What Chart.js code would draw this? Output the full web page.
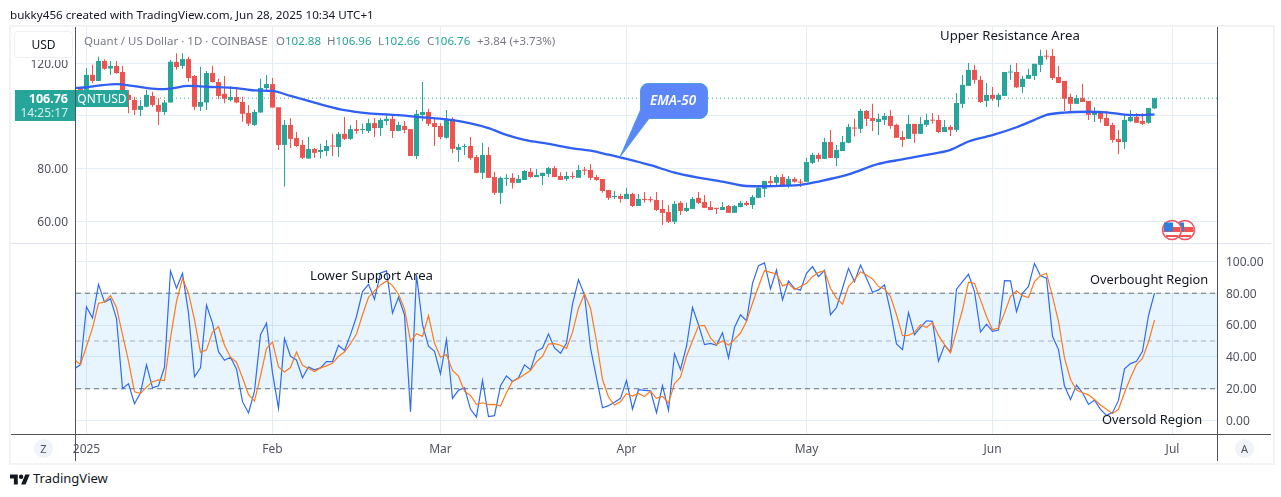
<!DOCTYPE html>
<html lang="en">
<head>
<meta charset="UTF-8">
<title>Quant / US Dollar</title>
<script src="https://cdn.jsdelivr.net/npm/chart.js"></script>
<style>
  html, body { margin:0; padding:0; background:#fff; }
  body { width:1281px; height:497px; position:relative; overflow:hidden; font-family:'Noto Sans',sans-serif; color:#131722; }
  canvas { position:absolute; left:0; }
  .t { position:absolute; white-space:nowrap; line-height:1; }
  .box { position:absolute; }
  .note { font-size:13.2px; color:#131722; }
  .g { color:#26a69a; }
  .round { position:absolute; width:19px; height:19px; border-radius:50%; background:#f0f3fa; font-size:11px; color:#50535e; text-align:center; line-height:19px; }
  .leg { position:absolute; top:35px; white-space:nowrap; line-height:1; font-size:11.5px; color:#787b86; }
</style>
</head>
<body>
<canvas id="priceChart" width="1281" height="243" style="top:0"></canvas>
<canvas id="rsiChart" width="1281" height="218" style="top:243px"></canvas>

<!-- frame and pane lines -->
<div class="box" style="left:9px;top:25px;width:1262px;height:436px;border:2px solid #f2f3f5"></div>
<div class="box" style="left:11px;top:243px;width:1260px;height:1px;background:#e0e3eb"></div>
<div class="box" style="left:11px;top:434px;width:1260px;height:1px;background:#50535e"></div>
<div class="box" style="left:75px;top:27px;width:1px;height:434px;background:#50535e"></div>
<div class="box" style="left:1217px;top:27px;width:1px;height:434px;background:#50535e"></div>

<div class="t" style="left:10px;top:9px;font-size:11.65px">bukky456 created with TradingView.com, Jun 28, 2025 10:34 UTC+1</div>

<!-- legend -->
<div class="leg" style="left:84px">Quant / US Dollar · 1D · COINBASE</div>
<div class="leg" style="left:276px">O<span class="g">102.88</span></div>
<div class="leg" style="left:327px">H<span class="g">106.96</span></div>
<div class="leg" style="left:378px">L<span class="g">102.66</span></div>
<div class="leg" style="left:427px">C<span class="g">106.76</span></div>
<div class="leg g" style="left:477px">+3.84 (+3.73%)</div>

<!-- USD button, covers the top of the 120 label -->
<div class="box" style="left:12px;top:29px;width:62px;height:31px;background:#fff"></div>
<div class="box" style="left:14px;top:31px;width:57px;height:25px;border:1px solid #eef0f3;border-radius:4px;font-size:12px;line-height:25px;text-align:center;color:#131722;background:#fff">USD</div>

<!-- last price tags -->
<div class="box" style="left:15px;top:90px;width:60px;height:31px;background:#26a69a;color:#fff;text-align:right">
  <div class="t" style="right:7px;top:3px;font-size:12.5px;font-weight:700">106.76</div>
  <div class="t" style="right:7px;top:17px;font-size:12px;color:#d4eeeb">14:25:17</div>
</div>
<div class="box" style="left:76px;top:90px;width:52px;height:17px;background:#26a69a;color:#fff;font-size:12px;line-height:17px;text-align:center">QNTUSD</div>

<!-- annotations -->
<div class="t note" style="left:940px;top:29px">Upper Resistance Area</div>
<div class="t note" style="left:310px;top:269px">Lower Support Area</div>
<div class="t note" style="left:1090px;top:273px;font-size:12.8px">Overbought Region</div>
<div class="t note" style="left:1102px;top:413px;font-size:12.9px">Oversold Region</div>

<!-- EMA-50 callout -->
<svg class="box" style="left:0;top:0" width="1281" height="243">
  <path d="M648 83.5H700a7.5 7.5 0 0 1 7.5 7.5V111a7.5 7.5 0 0 1 -7.5 7.5H649L620 157L640.5 110V91a7.5 7.5 0 0 1 7.5 -7.5z" fill="#5b85f8" stroke="#4d9fe0" stroke-width="1"/>
</svg>
<div class="t" style="left:650px;top:94px;font-size:13.5px;font-style:italic;font-weight:600;color:#fff">EMA-50</div>

<!-- flag icons -->
<svg class="box" style="left:1160px;top:219px" width="38" height="22">
  <g id="flagB"><circle cx="25" cy="11" r="9.5" fill="#fff" stroke="#ef5360" stroke-width="1.5"/><rect x="16.5" y="8" width="17" height="5" fill="#ef5350"/><rect x="19" y="16" width="12" height="2" fill="#ef5350"/><rect x="20" y="3.5" width="4" height="9" fill="#2f7fe0"/></g>
  <g id="flagA"><circle cx="12" cy="11" r="9.5" fill="#fff" stroke="#ef5360" stroke-width="1.5"/><rect x="3.5" y="8" width="17" height="5" fill="#ef5350"/><rect x="6" y="16" width="12" height="2" fill="#ef5350"/><rect x="4" y="3.5" width="9" height="9" fill="#2f7fe0"/></g>
</svg>

<div class="round" style="left:34px;top:439px">Z</div>
<div class="round" style="left:1235px;top:439px">A</div>

<!-- footer logo -->
<svg class="box" style="left:10px;top:474px" width="20" height="11" viewBox="0 4 36 18">
  <path d="M14 22H7V11H0V4h14v18zM28 22h-8l7.5-18h8L28 22z" fill="#131722"/><circle cx="20" cy="8" r="4" fill="#131722"/>
</svg>
<div class="t" style="left:33px;top:472px;font-size:13px;color:#131722">TradingView</div>

<script>
// daily candles, first entry is Dec 31 2024, last is Jun 28 2025
const opens = [
  110.5,109.9,115.6,113.3,120.9,118,119,116.7,108,106.1,
  102.3,103.5,107.6,104.2,101.5,105.1,120.5,119,121.6,115.2,
  103.5,105.1,116.3,112.9,108.4,106.1,107.2,105.3,101.1,96.6,
  101.3,110.6,112.1,103.3,89,96.6,91.6,89,83.8,87.5,
  86.3,86.7,88.6,88.2,93.2,91.3,95,94.7,94.3,97.3,
  95.4,98.1,98.9,94.3,96.2,95,84.8,100.4,101.5,97.3,
  96.2,91.7,98.9,87.1,88.2,88.6,84.4,78.4,85.2,76.8,
  70.8,76.1,76.5,74.6,75.7,78.8,76.8,77.2,78,80.2,
  77.2,76.1,77.1,76.5,79.5,79.5,76.8,76.1,71.9,69.2,
  69.6,68.5,70.4,65.8,68.5,68.4,68.1,64.7,63.5,59.8,
  67,63.9,64.7,68.9,67.3,65.4,65.1,64.3,65.8,63.2,
  65.4,67,66.2,68.9,72.3,75.3,74.6,76.8,73.8,76.1,
  75,75,82.2,85.2,83.7,90.1,84,86.7,89.8,95.6,
  95.1,101.9,99.2,97.7,98.5,100,96.6,92,91.3,97,
  93.2,96.6,98.5,98.5,93.9,95.8,94.7,104.6,111.4,117.5,
  113.7,105.7,108,106.1,107.6,116.5,116.7,111,114.1,115.2,
  119.4,122.8,122.8,114.8,113.3,107.2,104.6,106.8,105.7,100.4,
  101.5,99.2,96.6,91.3,90.1,98,99.6,98.1,97.4,102.88
];
const highs = [
  110.9,118.1,119.4,122.5,121.5,120.9,120.9,119,109.9,107.3,
  106.1,109.9,109.2,106.7,106.1,121.3,123.8,123.8,122.5,115.6,
  118.7,117.1,119.1,114.1,115.2,111.4,110.5,107.3,104.2,102.5,
  114.1,115.6,114.4,103.3,98.5,99.2,93.9,90.9,92,87.8,
  89.4,90.9,93.2,93.9,99.6,96.6,98.5,97,98.9,99.2,
  99.2,100.4,100,97.8,98.1,95,102.3,112.9,102.7,99.1,
  97.2,102.3,99.5,89.4,89.4,92,85.2,89.8,88.2,78.8,
  77,78,78.2,77.6,79.5,80.2,79.9,78.4,80.6,81,
  78.6,78.8,78.8,81.4,80.6,81.8,77.6,76.1,71.9,71.5,
  70.4,72.7,70.8,70.4,71.1,69.4,71.1,68.1,66.2,67.7,
  67.7,67,69.2,71.1,70,67.7,65.1,67.3,66.2,66.2,
  67.7,67.7,70,73.4,75.3,77.2,77.6,78,77.2,76.8,
  76.1,84,86,86,91.7,94.7,89,92.4,97,98.9,
  102.7,102.3,104.6,100.8,101.1,102.3,97,94.3,100.4,97,
  99.6,100.8,101.1,100.4,98.5,96.6,108.7,115.6,120.1,119.4,
  115.2,112.5,111,108.7,116.7,119.4,120.1,115.2,117.9,119.8,
  125.1,125.1,125.4,119,113.3,108.4,108,112.2,105.7,103.4,
  101.9,101.9,97.4,94.7,100.4,102.3,101.1,101.1,103,106.96
];
const lows = [
  109.6,107.3,112.4,113.3,117.5,115.6,116,105.5,101,100.4,
  100,103.3,103.5,96.6,100.4,105.1,117.5,117.9,113,102.3,
  101.9,102.3,112.6,106.3,104.8,105.5,104.8,97.8,96.2,96.2,
  101.3,109.6,103.2,87.1,73.2,87.8,88.2,83.7,83.8,84.1,
  83.8,84.8,84.8,84.4,90.9,90.9,93.2,93.2,93.5,92,
  92.4,96.6,91.6,94.2,93.4,84.8,83.7,98.1,96.2,88.6,
  91.2,91.3,85.8,82.5,85.2,83.4,78.2,76.1,76.5,70,
  66.6,73.4,72.5,74.6,75.7,76.5,76.8,73.8,76.8,76.8,
  75.7,75.4,76.1,76.5,77.6,75.7,75.3,70.8,68.1,68.5,
  67,68.5,65.4,65.8,67,67.2,63.9,58.6,59.4,59,
  62.4,63.5,64.7,66.6,65.1,64.3,62.8,64.3,63.2,63.2,
  65.3,65.8,64.7,68.9,69.2,73.4,73.4,73.4,72.7,74.6,
  73,75,81.8,82.5,83.7,84,81,86.7,89.6,92.2,
  93.5,96.2,94.3,92.8,96.6,95.1,91.7,88.2,91.3,89.8,
  93.2,95.8,97,93.5,93.9,92.4,93.9,103,111.4,112.2,
  104.9,103.4,105.7,103.4,107.6,113.7,110.6,108.7,114.1,113.7,
  116.7,121.3,113.7,112.5,101.9,101.9,104.6,105.3,98.5,97.7,
  97.4,96.2,89.8,85.6,87.5,97.7,97.4,96.6,97,102.66
];
const closes = [
  109.9,115.6,113.3,120.9,117.9,119,116.3,106.1,106.1,102.3,
  103.8,108,104.2,101.6,105.1,120.6,118.6,121.6,114.4,103.5,
  105.3,116.3,112.9,107.6,106.5,107.2,105.1,100.8,97.1,101.5,
  110.6,112.1,103.2,89,96.6,91.3,88.6,84.1,87.5,86,
  87.1,88.6,88.4,93.2,91.3,95,94.3,94.9,97.3,95.4,
  98.5,98.9,94.3,96.6,94.7,84.8,100.8,101.5,97,95.8,
  92,98.9,87.5,88.2,88.6,84,78.4,85.2,76.5,70.8,
  76.5,76.5,74.6,76.1,79.1,76.8,77.6,78.4,80.2,76.8,
  75.7,77.2,76.8,79.5,79.2,76.5,75.7,71.5,68.9,69.6,
  68.5,70.4,65.8,68.5,68.1,68,64.3,63.2,59.8,66.6,
  63.9,65.1,68.5,67,65.1,64.3,64.7,65.4,63.2,65.8,
  67,66.2,69.2,72.7,75.3,74.6,76.8,73.8,76.1,75,
  74.7,82.5,85.2,83.7,90.1,84,87.1,90.1,95.8,95.2,
  101.9,98.9,98.1,98.9,100,96.2,91.7,90.9,97,93.2,
  97,98.5,98.2,93.9,95.8,94.7,104.9,111.8,117.5,113.7,
  105.3,108,106.5,108,116.7,116.7,110.9,114.1,115.6,119.8,
  122.8,122.5,114.4,112.5,106.5,104.6,106.8,105.3,100.4,101.5,
  98.9,96.2,90.9,90.1,98.5,99.6,97.4,97,103,106.76
];
const emaDays = [-2,0,2,5,8,12,14,17,20,25,28,31,34,37,40,43,47,52,56,60,64,67,70,73,77,81,84,87,90,94,98,102,106,110,113,116,119,122,127,132,136,140,144,147,151,155,158,160,163,167,170,173,176,178];
const emaValues = [110.6,110.9,111.5,112.1,111.3,110.2,110.4,111.4,111.1,110.6,109.7,109.5,107.6,105.7,103.8,102.2,101,100.3,99.5,98.7,97.2,95.4,92.8,90.9,89.4,87.7,86.8,85.3,83.7,81.3,78.5,76.6,75.1,73.4,73.3,73.5,73.8,75.1,77.8,81.8,83.5,85.2,87.1,90.3,92.7,95.7,98.5,100.4,101.3,101.6,101.4,100.5,100.3,100.6];
const lastPrice = 106.76;

// stochastic panel, first entry is Dec 30 2024
const fastLine = [
  32.5,35.2,71.4,64.4,85.6,74.4,76.4,64,20.2,23.1,10.6,17.5,35,20.6,21.9,33.5,94,83.1,92.5,67.5,
  27.5,33.1,72.5,61.2,43.3,37.9,39.8,32.5,11.9,4.8,18.5,54,61.2,30,7.7,51.5,40.4,38.1,26.9,33.7,
  31.9,33.1,37.1,37.1,47.3,44,54,65.4,81,85.6,76.2,92.7,94,67.5,77.5,66.5,5.6,91.5,60.2,46.7,
  43.5,29.4,50.8,14,19,20.6,7.1,2.3,25.2,2.5,3.1,21.9,28.1,24.6,26.9,35,31.9,43.5,45.6,54.4,
  45.6,42.3,48.7,73.1,88.5,79,45.6,26.9,8.1,9.4,11.5,14,25.2,7.3,19.4,19,18.7,5,21.9,6.5,
  41.9,32.1,46.7,71,60.2,47.7,48.5,47.3,55.2,39.4,58.5,66.5,62.7,86.2,97.3,99,82.7,94.6,75.8,87.7,
  83.1,81.9,92.5,96.7,90.4,94.4,66.5,71,83.1,95.6,87.3,97.7,89.4,80.6,82.1,85.2,68.5,48.1,44.6,67.9,
  54,58.5,62.7,62.3,37.3,47.3,43.1,82.5,87.3,91.9,81,55.6,60.6,56,56.9,87.9,87.7,68.5,80,84.2,
  98.7,91,89.4,52.9,44.6,21.7,13.3,22.3,17.5,10.2,12.9,7.1,3.3,5,12.7,32.5,35.8,37.3,43.5,66,80
];
const slowLine = [
  38.1,35.2,46.7,58.1,73.7,74.4,78.5,71,54,37.3,18.1,17.1,21,24.4,25.6,25.2,51.9,74.8,89.4,80,
  63.3,42.9,44.4,55.6,59,47.3,39.8,36.7,26.9,16.5,12.3,27.9,45.2,49.4,33.7,30.6,33.3,43.1,34.8,32.7,
  30.8,33.1,34.4,36,40.4,43.1,48.3,54.4,66.5,77.5,81.5,85.2,87.7,84.8,79.4,70.2,49.8,54.6,52.9,66,
  48.7,39.8,41.5,31.5,27.9,18.5,15.8,10.2,11.2,10,10.2,9.2,17.5,24.8,26.5,29,31.5,36.9,40.4,48.1,
  48.3,47.3,45.4,55.4,70.6,79.6,70.6,49.8,25.8,14.8,9.8,11.9,16.9,15.4,17.1,15.2,18.5,14,15.2,11,
  23.3,27.3,40.4,50.2,59.4,59.8,51.9,47.7,50.2,47.3,51,55,62.3,73.7,84.2,94.2,93.1,92.1,84.6,86,
  82.3,84.2,86.2,90.4,93.1,94,83.1,76.9,73.1,84.2,88.3,93.5,91.5,89,84.2,82.7,77.9,66.5,53.3,53.5,
  55.4,60.2,58.5,61.7,53.5,47.7,42.5,56,69.6,86.9,86.2,75.8,65.4,57.1,58.1,67.5,77.9,81.5,78.5,77.3,
  87.3,91,92.5,77.9,62.3,39.4,25.8,19.2,17.5,16.2,13.3,9.8,7.1,4.4,7.1,17.5,26.9,35.2,39,49.4,63.1
];

const priceTicks = [60,80,100,120];
const rsiTicks = [0,20,40,60,80,100];
const monthDays = [0,31,59,90,120,151,181];
const monthLabels = ['2025','Feb','Mar','Apr','May','Jun','Jul'];

// both panes share the same time axis
const xMin = -1.75, xMax = 188.4167;
const UP = '#26a69a', DOWN = '#ef5350', GRID = '#e3eef4', TEXT = '#50535e';
const tickFont = {family:"'Noto Sans',sans-serif", size:12};

const candleDays = opens.map((_,i)=>i-1);
const rsiDays = fastLine.map((_,i)=>i-2);
const candleColors = opens.map((o,i)=> closes[i]>=o ? UP : DOWN);

// tick labels must not push the plot area in
function noPadding(s){ s.paddingLeft = s.paddingRight = s.paddingTop = s.paddingBottom = 0; }

function timeAxis(showLabels){
  return {
    type:'linear', min:xMin, max:xMax, offset:false,
    afterBuildTicks: s => { s.ticks = monthDays.map(v=>({value:v})); },
    afterFit: s => { s.height = showLabels ? 27 : 0; noPadding(s); },
    grid:{color:GRID, drawTicks:false, offset:false}, border:{display:false},
    ticks:{display:showLabels, autoSkip:false, maxRotation:0, padding:8, color:TEXT, font:tickFont,
      callback:v=>monthLabels[monthDays.indexOf(v)]}
  };
}
function flatLine(y,color,dash){
  return {type:'line', data:[{x:xMin,y:y},{x:xMax,y:y}], borderColor:color, borderWidth:1, borderDash:dash, pointRadius:0, order:5};
}

// price pane: wicks and bodies are floating bars
new Chart(document.getElementById('priceChart'),{
  data:{datasets:[
    {type:'bar', data:candleDays.map((d,i)=>({x:d,y:[lows[i],highs[i]]})), backgroundColor:candleColors, barThickness:1, grouped:false, inflateAmount:0, order:3},
    {type:'bar', data:candleDays.map((d,i)=>({x:d,y:[opens[i],closes[i]]})), backgroundColor:candleColors, barThickness:5, minBarLength:1, grouped:false, inflateAmount:0, order:2},
    {type:'line', data:emaDays.map((d,i)=>({x:d,y:emaValues[i]})), borderColor:'#2f5ff5', borderWidth:2.3, pointRadius:0, cubicInterpolationMode:'monotone', order:1},
    {type:'line', data:[{x:xMin,y:lastPrice},{x:xMax,y:lastPrice}], borderColor:UP, borderWidth:1, borderDash:[1,3], pointRadius:0, order:0}
  ]},
  options:{
    responsive:false, animation:false, devicePixelRatio:1, events:[],
    layout:{padding:{top:27,right:64,left:0,bottom:0}},
    plugins:{legend:{display:false},tooltip:{enabled:false}},
    scales:{
      x:timeAxis(false),
      y:{type:'linear', position:'left', min:51.76, max:133.78,
        afterBuildTicks:s=>{ s.ticks = priceTicks.map(v=>({value:v})); },
        afterFit:s=>{ s.width = 76; noPadding(s); },
        grid:{color:GRID, drawTicks:false}, border:{display:false},
        ticks:{padding:8, labelOffset:1, color:TEXT, font:tickFont, callback:v=>v.toFixed(2)}}
    }
  }
});

// oscillator pane with the 20-80 band
new Chart(document.getElementById('rsiChart'),{
  data:{datasets:[
    Object.assign(flatLine(80,'#6a6d78',[5,4]),{fill:'+1', backgroundColor:'rgba(33,150,243,0.1)'}),
    flatLine(20,'#6a6d78',[5,4]),
    flatLine(50,'#b2b5be',[5,4]),
    {type:'line', data:rsiDays.map((d,i)=>({x:d,y:fastLine[i]})), borderColor:'#2f6bf5', borderWidth:1.2, pointRadius:0, tension:0, order:2},
    {type:'line', data:rsiDays.map((d,i)=>({x:d,y:slowLine[i]})), borderColor:'#ff7a1a', borderWidth:1.2, pointRadius:0, tension:0, order:1}
  ]},
  options:{
    responsive:false, animation:false, devicePixelRatio:1, events:[],
    layout:{padding:{top:1,right:0,left:76,bottom:0}},
    plugins:{legend:{display:false},tooltip:{enabled:false}},
    scales:{
      x:timeAxis(true),
      y:{type:'linear', position:'right', min:-8.4, max:110.9,
        afterBuildTicks:s=>{ s.ticks = rsiTicks.map(v=>({value:v})); },
        afterFit:s=>{ s.width = 64; noPadding(s); },
        grid:{color:GRID, drawTicks:false}, border:{display:false},
        ticks:{padding:9, labelOffset:1, color:TEXT, font:tickFont, callback:v=>v.toFixed(2)}}
    }
  }
});
</script>
</body>
</html>
